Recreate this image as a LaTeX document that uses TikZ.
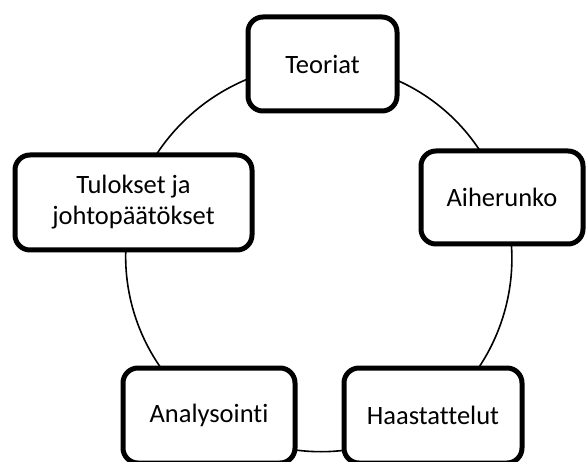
\documentclass[tikz,border=0pt]{standalone}
\usepackage{fontspec}
\setmainfont[Ligatures={NoCommon}]{Carlito}
\pgfdeclarelayer{bg}
\pgfsetlayers{bg,main}
\begin{document}
\begin{tikzpicture}[x=1pt,y=1pt,
  box/.style={draw=black, line width=5pt, rounded corners=15pt, fill=white,
    align=center, inner sep=0pt, font=\fontsize{26.5}{31}\selectfont},
  arcline/.style={draw=black, line width=1.6pt, bend left=36, looseness=0.94}]
\useasboundingbox (0,0) rectangle (586,461);
\node[box, minimum width=149pt, minimum height=94pt] (teo) at (322.5,397) {Teoriat};
\node[box, minimum width=162pt, minimum height=93pt] (aih) at (502,263.5) {Aiherunko};
\node[box, minimum width=178pt, minimum height=95pt] (hst) at (433,45.5) {Haastattelut};
\node[box, minimum width=172pt, minimum height=95pt] (ana) at (209,45.5) {Analysointi};
\node[box, minimum width=237pt, minimum height=95pt] (tul) at (133.5,258.5) {Tulokset ja\\johtopäätökset};
\begin{pgfonlayer}{bg}
\draw[arcline] (teo.center) to (aih.center);
\draw[arcline] (aih.center) to (hst.center);
\draw[arcline] (hst.center) to (ana.center);
\draw[arcline] (ana.center) to (tul.center);
\draw[arcline] (tul.center) to (teo.center);
\end{pgfonlayer}
\end{tikzpicture}
\end{document}
